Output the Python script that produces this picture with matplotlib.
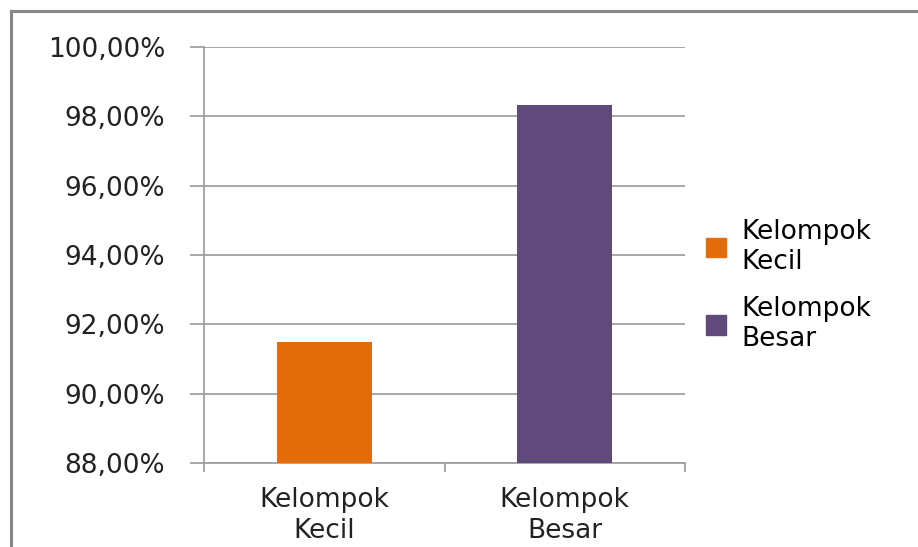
import matplotlib.pyplot as plt
from matplotlib.patches import Patch
from matplotlib.ticker import FuncFormatter

# data
kategori = ['Kelompok\nKecil', 'Kelompok\nBesar']
nilai = [91.50, 98.33]
warna = ['#E36C0A', '#604A7B']

plt.rcParams['font.family'] = ['DejaVu Sans']

fig = plt.figure(figsize=(9.18, 5.47), dpi=100)
ax = fig.add_axes([204/918, 1 - 463/547, (685-204)/918, (463-47)/547])

x = range(len(kategori))
ax.bar(x, nilai, width=0.395, color=warna, zorder=3)

ax.set_ylim(88, 100)
ax.set_xlim(-0.5, 1.5)
ax.set_yticks([88, 90, 92, 94, 96, 98, 100])
ax.yaxis.set_major_formatter(FuncFormatter(lambda v, p: ('%.2f%%' % v).replace('.', ',')))
ax.grid(axis='y', color='#a0a0a0', linewidth=1.3, zorder=0)

ax.set_xticks([-0.5, 0.5, 1.5])
ax.set_xticklabels([])
ax.set_xticks(list(x), minor=True)
ax.set_xticklabels(kategori, minor=True, fontsize=19, color='#222222', linespacing=1.25)
ax.tick_params(axis='x', which='minor', length=0, pad=17)
ax.tick_params(axis='x', which='major', length=6.5, width=1.3, color='#a0a0a0', direction='out')
ax.tick_params(axis='y', length=10, width=1.3, color='#a0a0a0', labelsize=19,
               labelcolor='#222222', pad=18)

for s in ['top', 'right']:
    ax.spines[s].set_visible(False)
for s in ['left', 'bottom']:
    ax.spines[s].set_color('#a0a0a0')
    ax.spines[s].set_linewidth(1.3)

handles = [Patch(color=c, label=k) for c, k in zip(warna, kategori)]
fig.legend(handles=handles, loc='upper left', bbox_to_anchor=(706/918, 1 - 219/547),
           frameon=False, fontsize=19, handlelength=0.75, handleheight=0.75,
           handletextpad=0.6, labelspacing=0.8, borderaxespad=0, borderpad=0)

# outer chart border
fig.add_artist(plt.Line2D([11/918, 1], [1 - 11/547, 1 - 11/547], color='#888888', linewidth=2.2))
fig.add_artist(plt.Line2D([11/918, 11/918], [0, 1 - 11/547], color='#888888', linewidth=2.2))

fig.savefig('out.png', dpi=100)
